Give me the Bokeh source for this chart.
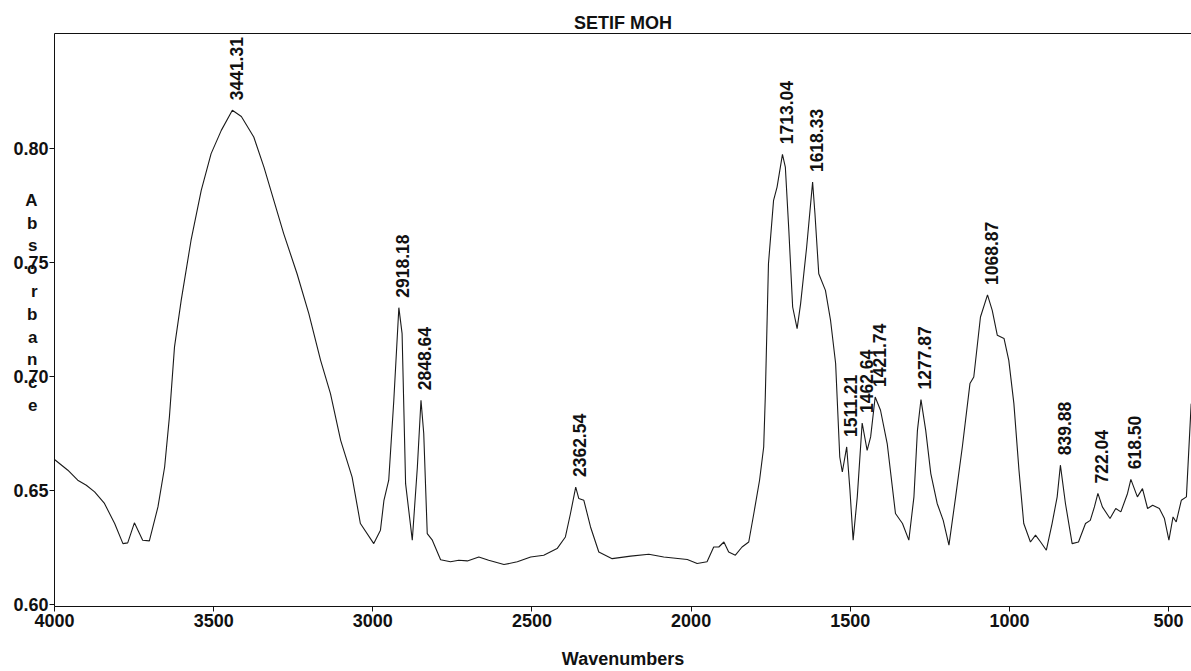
import numpy as np
from bokeh.plotting import figure
from bokeh.models import (Range1d, LinearAxis, FixedTicker, ColumnDataSource,
                          NumeralTickFormatter, CustomJSTickFormatter)
from bokeh.core.properties import value
from bokeh.embed import file_html
from bokeh.resources import INLINE

# FTIR absorbance spectrum, wavenumber in cm-1 (descending)
wavenumber = [
    4000, 3958, 3927, 3900, 3874, 3843, 3811, 3785, 3770, 3749, 3723, 3702,
    3675, 3654, 3639, 3623, 3602, 3571, 3539, 3508, 3476, 3441.31, 3413, 3374,
    3342, 3311, 3280, 3238, 3201, 3164, 3133, 3101, 3065, 3039, 2997, 2976,
    2965, 2950, 2934, 2918.18, 2908, 2897, 2876, 2860, 2848.64, 2840, 2829, 2813,
    2787, 2756, 2730, 2703, 2667, 2636, 2588, 2546, 2504, 2463, 2421, 2395,
    2379, 2362.54, 2353, 2337, 2316, 2290, 2248, 2190, 2133, 2086, 2012, 1981,
    1950, 1929, 1913, 1897, 1882, 1861, 1840, 1819, 1803, 1785, 1772, 1767,
    1757, 1741, 1730, 1713.04, 1704, 1693, 1681, 1667, 1656, 1646, 1637, 1618.33,
    1611, 1599, 1578, 1562, 1546, 1533, 1525, 1511.21, 1501, 1491, 1478, 1462.64,
    1447, 1436, 1421.74, 1405, 1384, 1358, 1336, 1316, 1300, 1289, 1277.87, 1263,
    1247, 1227, 1208, 1190, 1169, 1148, 1124, 1112, 1091, 1068.87, 1054, 1038,
    1017, 1002, 986, 970, 955, 934, 918, 902, 884, 866, 850, 839.88,
    824, 803, 783, 761, 746, 733, 722.04, 708, 684, 666, 650, 629,
    618.50, 598, 582, 566, 550, 529, 513, 499, 486, 476, 460, 444, 429,
]
absorbance = [
    0.6635, 0.6588, 0.6544, 0.6522, 0.6493, 0.6442, 0.6354, 0.6266, 0.6269, 0.6357, 0.6281, 0.6278,
    0.6427, 0.6602, 0.6822, 0.7129, 0.7333, 0.7597, 0.7816, 0.7977, 0.8079, 0.8167, 0.8140, 0.8050,
    0.7918, 0.7772, 0.7626, 0.7450, 0.7275, 0.7070, 0.6924, 0.6719, 0.6558, 0.6354, 0.6266, 0.6325,
    0.6456, 0.6544, 0.6895, 0.7301, 0.7187, 0.6529, 0.6281, 0.6602, 0.6895, 0.6749, 0.6310, 0.6281,
    0.6195, 0.6186, 0.6193, 0.6190, 0.6207, 0.6193, 0.6174, 0.6186, 0.6207, 0.6215, 0.6244, 0.6295,
    0.6398, 0.6514, 0.6464, 0.6456, 0.6339, 0.6229, 0.6200, 0.6211, 0.6219, 0.6207, 0.6196, 0.6179,
    0.6186, 0.6251, 0.6251, 0.6273, 0.6229, 0.6215, 0.6251, 0.6273, 0.6398, 0.6544, 0.6690, 0.6909,
    0.7494, 0.7772, 0.7830, 0.7974, 0.7918, 0.7640, 0.7304, 0.7209, 0.7319, 0.7450, 0.7567, 0.7852,
    0.7714, 0.7450, 0.7377, 0.7246, 0.7056, 0.6646, 0.6580, 0.6690, 0.6500, 0.6281, 0.6471, 0.6795,
    0.6675, 0.6734, 0.6909, 0.6851, 0.6705, 0.6398, 0.6354, 0.6281, 0.6471, 0.6763, 0.6898, 0.6763,
    0.6573, 0.6442, 0.6368, 0.6259, 0.6471, 0.6690, 0.6968, 0.6997, 0.7260, 0.7357, 0.7289, 0.7180,
    0.7166, 0.7070, 0.6880, 0.6588, 0.6354, 0.6273, 0.6303, 0.6273, 0.6237, 0.6354, 0.6471, 0.6610,
    0.6442, 0.6266, 0.6273, 0.6354, 0.6368, 0.6427, 0.6486, 0.6427, 0.6376, 0.6420, 0.6405, 0.6486,
    0.6548, 0.6471, 0.6507, 0.6420, 0.6434, 0.6420, 0.6376, 0.6281, 0.6383, 0.6361, 0.6456, 0.6471, 0.6880,
]

# Labelled band positions and their heights
peak_wavenumber = [3441.31, 2918.18, 2848.64, 2362.54, 1713.04, 1618.33, 1511.21,
                   1462.64, 1421.74, 1277.87, 1068.87, 839.88, 722.04, 618.50]
peak_absorbance = [0.8167, 0.7301, 0.6895, 0.6514, 0.7974, 0.7852, 0.6690,
                   0.6795, 0.6909, 0.6898, 0.7357, 0.6610, 0.6486, 0.6548]
peak_label = [f"{w:.2f}" for w in peak_wavenumber]

x_ticks = [4000, 3500, 3000, 2500, 2000, 1500, 1000, 500]
y_ticks = [0.60, 0.65, 0.70, 0.75, 0.80]

y_title = "Absorbance"

FONT = "Liberation Sans"
INK = "#111111"

p = figure(width=1191, height=671, output_backend="svg", toolbar_location=None,
           x_range=Range1d(4000, 428), y_range=Range1d(0.599, 0.8504),
           min_border_left=54, min_border_right=0, min_border_top=33,
           min_border_bottom=65, title="SETIF MOH")
p.title.align = "center"
p.title.text_font = FONT
p.title.text_font_size = "18px"
p.title.text_font_style = "bold"
p.title.text_color = INK
p.title.standoff = 2
p.grid.visible = False
p.outline_line_color = None
p.background_fill_color = "white"
p.border_fill_color = "white"

p.line(wavenumber, absorbance, line_color="#1a1a1a", line_width=1.1)

src = ColumnDataSource(dict(x=peak_wavenumber, y=peak_absorbance, t=peak_label))
p.text(x="x", y="y", text="t", source=src, angle=np.pi / 2, x_offset=4, y_offset=-10,
       text_align="left", text_baseline="middle", text_font=value(FONT),
       text_font_size="17.5px", text_font_style="bold", text_color=INK)

for ax in (p.xaxis[0], p.yaxis[0]):
    ax.major_label_text_font = FONT
    ax.major_label_text_font_size = "18px"
    ax.major_label_text_font_style = "bold"
    ax.major_label_text_color = INK
    ax.axis_line_color = INK
    ax.major_tick_line_color = INK
    ax.major_tick_in = 0
    ax.major_tick_out = 5
    ax.minor_tick_line_color = None

p.xaxis[0].ticker = FixedTicker(ticks=x_ticks)
p.xaxis[0].major_label_standoff = 2
p.xaxis[0].axis_label = "Wavenumbers"
p.xaxis[0].axis_label_text_font = FONT
p.xaxis[0].axis_label_text_font_size = "18px"
p.xaxis[0].axis_label_text_font_style = "bold"
p.xaxis[0].axis_label_text_color = INK
p.xaxis[0].axis_label_standoff = 19

p.yaxis[0].ticker = FixedTicker(ticks=y_ticks)
p.yaxis[0].formatter = NumeralTickFormatter(format="0.00")
p.yaxis[0].major_label_standoff = 1

# top frame edge
top = LinearAxis(ticker=FixedTicker(ticks=[]), major_label_text_font_size="0px",
                 major_tick_out=0, major_tick_in=0, minor_tick_out=0, minor_tick_in=0,
                 major_label_standoff=0, axis_line_color=INK)
p.add_layout(top, "above")

# vertical axis title written one letter per row, sharing the tick-label column
letter_rows = [0.7772 - 0.0100 * i for i in range(len(y_title))]
title_axis = LinearAxis(
    ticker=FixedTicker(ticks=letter_rows),
    formatter=CustomJSTickFormatter(args=dict(letters=list(y_title)),
                                    code="return letters[index]"),
    axis_line_color=None, major_tick_line_color=None, minor_tick_line_color=None,
    major_tick_out=0, major_tick_in=0, major_label_standoff=-27,
    major_label_text_font=FONT, major_label_text_font_size="17px",
    major_label_text_font_style="bold", major_label_text_color=INK)
p.add_layout(title_axis, "left")

open("out.html", "w").write(file_html(p, INLINE))
